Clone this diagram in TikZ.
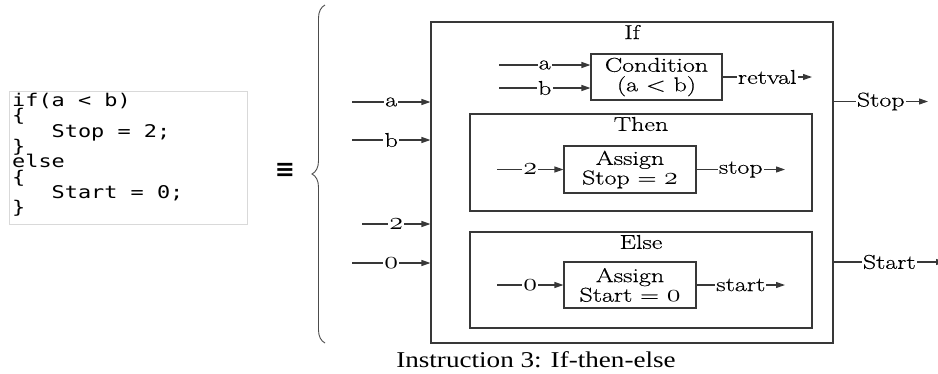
\documentclass[tikz,border=0pt]{standalone}
\usepackage{fontspec}
\setmainfont{Latin Modern Roman}[FakeStretch=1.3,FakeBold=0.5]
\newfontfamily\codefont[FakeStretch=1.25]{DejaVu Sans Mono}
\newfontfamily\capfont[FakeStretch=1.2]{Liberation Serif}
\newfontfamily\symfont{DejaVu Sans}
\usetikzlibrary{arrows.meta,decorations.pathreplacing}
% old-style digits taken from the math italic font, widened to the text
\newcommand\oldnum[1]{\scalebox{1.35}[1.2]{\fontsize{21.5}{21.5}\usefont{OML}{lmm}{m}{it}#1}}
\newcommand\dfont{\fontsize{20}{19.5}\selectfont}
\newcommand\cfont{\codefont\fontsize{17.5}{15}\selectfont}
\begin{document}
\begin{tikzpicture}[x=1pt,y=-1pt,
  wire/.style={draw=black!78,line width=1.1pt},
  flow/.style={wire,-{Triangle[length=9pt,width=6pt]}},
  lbl/.style={fill=white,inner sep=1.2pt,font=\dfont},
  box/.style={draw=black!78,line width=1.1pt,align=center,inner sep=0pt,font=\dfont},
  ttl/.style={inner sep=0pt,font=\dfont},
  codeline/.style={anchor=base west,inner sep=0pt,font=\cfont}]
\useasboundingbox (0,0) rectangle (938,373);

% source code listing
\node[draw=black!15,line width=0.8pt,minimum width=238pt,minimum height=133pt,inner sep=0pt] (codebox) at (128,157.5) {};
\node[codeline] (c1) at (12,106.5) {if(a < b)};
\node[codeline] (c2) at (12,121.8) {\{};
\node[codeline] (c3) at (12,137.1) {\ \ \ Stop = 2;};
\node[codeline] (c4) at (12,152.4) {\}};
\node[codeline] (c5) at (12,167.7) {else};
\node[codeline] (c6) at (12,183.0) {\{};
\node[codeline] (c7) at (12,198.3) {\ \ \ Start = 0;};
\node[codeline] (c8) at (12,213.6) {\}};

% equivalence sign and brace
\node[font=\symfont\bfseries\fontsize{24}{24}\selectfont,inner sep=0pt] (equiv) at (285,170) {≡};
\coordinate (bb) at (325,343);
\coordinate (bt) at (325,5);
\draw[draw=black!70,line width=0.9pt,decorate,decoration={brace,amplitude=13pt}] (bb) -- (bt);

% If block
\node[box,minimum width=402pt,minimum height=321pt] (ifbox) at (632,182.5) {};
\node[ttl] (iflbl) at (632,32) {If};
\node[box,minimum width=131pt,minimum height=46pt] (cond) at (656.5,77) {Condition\\(a < b)};

% Then block
\node[box,minimum width=342pt,minimum height=97pt] (thenbox) at (641,162.5) {};
\node[ttl] (thenlbl) at (641,124) {Then};
\node[box,minimum width=132pt,minimum height=47pt] (setstop) at (630,169.5) {Assign\\Stop = \oldnum{2}};

% Else block
\node[box,minimum width=342pt,minimum height=96pt] (elsebox) at (641,280) {};
\node[ttl] (elselbl) at (641,242) {Else};
\node[box,minimum width=132pt,minimum height=46pt] (setstart) at (630,285) {Assign\\Start = \oldnum{0}};

% condition ports
\coordinate (ca) at (499,65);
\coordinate (cb) at (499,88);
\coordinate (rv) at (812,77);
\draw[flow] (ca) -- node[lbl]{a} (ca -| cond.west);
\draw[flow] (cb) -- node[lbl]{b} (cb -| cond.west);
\draw[flow] (cond.east) -- node[lbl]{retval} (rv);

% assignment ports
\coordinate (in2) at (497,169.5);
\coordinate (outstop) at (785,169.5);
\coordinate (in0) at (497,285);
\coordinate (outstart) at (785,285);
\draw[flow] (in2) -- node[lbl]{\oldnum{2}} (setstop.west);
\draw[flow] (setstop.east) -- node[lbl]{stop} (outstop);
\draw[flow] (in0) -- node[lbl]{\oldnum{0}} (setstart.west);
\draw[flow] (setstart.east) -- node[lbl]{start} (outstart);

% block inputs
\coordinate (xa) at (352,102);
\coordinate (xb) at (352,140);
\coordinate (x2) at (362,224);
\coordinate (x0) at (352,263);
\draw[flow] (xa) -- node[lbl]{a} (xa -| ifbox.west);
\draw[flow] (xb) -- node[lbl]{b} (xb -| ifbox.west);
\draw[flow] (x2) -- node[lbl]{\oldnum{2}} (x2 -| ifbox.west);
\draw[flow] (x0) -- node[lbl]{\oldnum{0}} (x0 -| ifbox.west);

% block outputs
\coordinate (ystop) at (928,101.5);
\coordinate (ystart) at (945,262);
\draw[flow] (ystop -| ifbox.east) -- node[lbl]{Stop} (ystop);
\draw[flow] (ystart -| ifbox.east) -- node[lbl]{Start} (ystart);

% caption
\node[font=\capfont\fontsize{22.6}{24}\selectfont,inner sep=0pt,anchor=base] (caption) at (536,367.5) {Instruction 3: If-then-else};
\end{tikzpicture}
\end{document}
